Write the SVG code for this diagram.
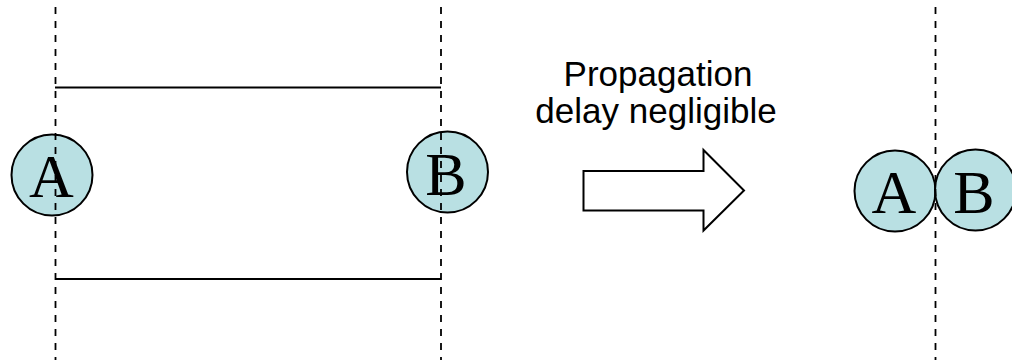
<svg xmlns="http://www.w3.org/2000/svg" width="1012" height="360" viewBox="0 0 1012 360">
<style>
.node circle{fill:#b9e0e3;stroke:#000;stroke-width:2}
.node text{font-family:"Liberation Serif","Times New Roman",serif;font-size:62px;fill:#000;text-anchor:middle}
.dash{stroke:#000;stroke-width:1.8;stroke-dasharray:7 7;fill:none}
.solid{stroke:#000;stroke-width:2;fill:none}
.label{font-family:"Liberation Sans",Arial,sans-serif;font-size:35px;fill:#000;text-anchor:middle}
</style>
<rect width="1012" height="360" fill="#fff"/>
<g id="nodeA1" class="node"><circle cx="52" cy="175" r="40.5"/><text x="51.5" y="197">A</text></g>
<g id="nodeB1" class="node"><circle cx="447.5" cy="172" r="40.5"/><text x="446" y="195">B</text></g>
<g id="nodeA2" class="node"><circle cx="895" cy="191" r="40.5"/><text x="894" y="212.5">A</text></g>
<g id="nodeB2" class="node"><circle cx="975.5" cy="190" r="40.5"/><text x="974" y="212.5">B</text></g>
<g id="connectors">
<line class="solid" x1="55" y1="87.5" x2="441" y2="87.5"/>
<line class="solid" x1="55" y1="279" x2="441" y2="279"/>
<line class="dash" x1="55.5" y1="7" x2="55.5" y2="360"/>
<line class="dash" x1="441" y1="7" x2="441" y2="360"/>
<line class="dash" x1="935.5" y1="7" x2="935.5" y2="360"/>
</g>
<g id="arrow"><polygon class="solid" points="583.5,171 703.5,171 703.5,150 744,190.5 703.5,230.5 703.5,210.5 583.5,210.5"/></g>
<g id="label"><text class="label" x="658" y="86">Propagation</text><text class="label" x="656" y="123">delay negligible</text></g>
</svg>
